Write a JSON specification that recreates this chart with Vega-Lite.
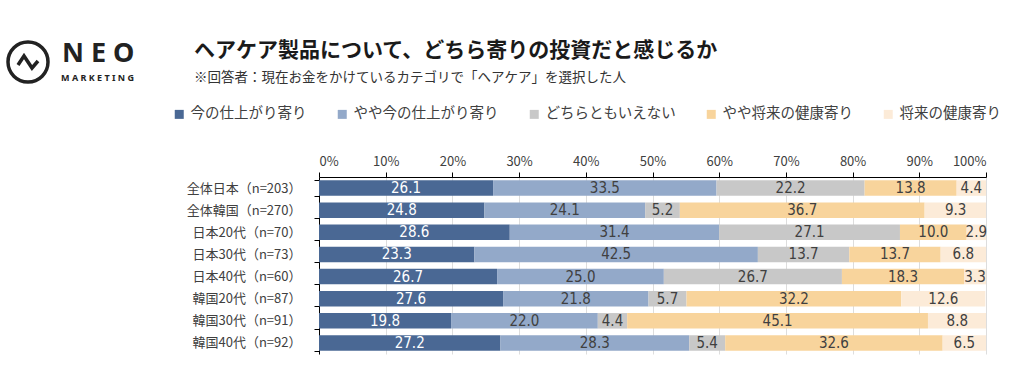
{
  "$schema": "https://vega.github.io/schema/vega-lite/v6.json",
  "background": "white",
  "autosize": {"type": "none"},
  "padding": {"left": 319, "top": 177, "right": 38, "bottom": 21},
  "width": 667,
  "height": 177,
  "config": {"view": {"stroke": null}, "font": "Noto Sans CJK JP"},
  "title": {
    "text": "ヘアケア製品について、どちら寄りの投資だと感じるか",
    "subtitle": "※回答者：現在お金をかけているカテゴリで「ヘアケア」を選択した人",
    "anchor": "start",
    "frame": "group",
    "dx": -125,
    "offset": -44,
    "font": "Noto Sans CJK JP",
    "fontSize": 21,
    "fontWeight": "bold",
    "color": "#1a1a1a",
    "subtitleFont": "Noto Sans CJK JP",
    "subtitleFontSize": 13.5,
    "subtitleColor": "#333333",
    "subtitlePadding": 10
  },
  "layer": [
    {
      "data": {"values": [{"brand": "N E O"}]},
      "mark": {"type": "point", "filled": false, "color": "#222222", "opacity": 0, "size": 1600},
      "encoding": {
        "shape": {
          "field": "brand",
          "type": "nominal",
          "scale": {"range": ["M -1 0 A 1 1 0 1 0 1 0 A 1 1 0 1 0 -1 0 Z M -0.5 0.15 L -0.2 -0.3 L 0.2 0.3 L 0.5 -0.05"]},
          "legend": {
            "orient": "none",
            "legendX": -313,
            "legendY": -137,
            "padding": 0,
            "symbolSize": 1600,
            "symbolStrokeWidth": 3.5,
            "symbolStrokeColor": "#222222",
            "symbolFillColor": "transparent",
            "symbolOpacity": 1,
            "labelFont": "Noto Sans",
            "labelFontSize": 27,
            "labelFontWeight": "bold",
            "labelColor": "#222222",
            "labelBaseline": "alphabetic",
            "labelOffset": 12,
            "labelLimit": 300,
            "title": "M A R K E T I N G",
            "titleOrient": "bottom",
            "titleAnchor": "end",
            "titleFont": "Noto Sans",
            "titleFontSize": 9,
            "titleFontWeight": "bold",
            "titleColor": "#222222",
            "titlePadding": -15
          }
        }
      }
    },
    {
      "data": {
        "values": [
          {"g": "全体日本（n=203）", "c": "今の仕上がり寄り", "o": 1, "v": 26.1},
          {"g": "全体日本（n=203）", "c": "やや今の仕上がり寄り", "o": 2, "v": 33.5},
          {"g": "全体日本（n=203）", "c": "どちらともいえない", "o": 3, "v": 22.2},
          {"g": "全体日本（n=203）", "c": "やや将来の健康寄り", "o": 4, "v": 13.8},
          {"g": "全体日本（n=203）", "c": "将来の健康寄り", "o": 5, "v": 4.4},
          {"g": "全体韓国（n=270）", "c": "今の仕上がり寄り", "o": 1, "v": 24.8},
          {"g": "全体韓国（n=270）", "c": "やや今の仕上がり寄り", "o": 2, "v": 24.1},
          {"g": "全体韓国（n=270）", "c": "どちらともいえない", "o": 3, "v": 5.2},
          {"g": "全体韓国（n=270）", "c": "やや将来の健康寄り", "o": 4, "v": 36.7},
          {"g": "全体韓国（n=270）", "c": "将来の健康寄り", "o": 5, "v": 9.3},
          {"g": "日本20代（n=70）", "c": "今の仕上がり寄り", "o": 1, "v": 28.6},
          {"g": "日本20代（n=70）", "c": "やや今の仕上がり寄り", "o": 2, "v": 31.4},
          {"g": "日本20代（n=70）", "c": "どちらともいえない", "o": 3, "v": 27.1},
          {"g": "日本20代（n=70）", "c": "やや将来の健康寄り", "o": 4, "v": 10.0},
          {"g": "日本20代（n=70）", "c": "将来の健康寄り", "o": 5, "v": 2.9},
          {"g": "日本30代（n=73）", "c": "今の仕上がり寄り", "o": 1, "v": 23.3},
          {"g": "日本30代（n=73）", "c": "やや今の仕上がり寄り", "o": 2, "v": 42.5},
          {"g": "日本30代（n=73）", "c": "どちらともいえない", "o": 3, "v": 13.7},
          {"g": "日本30代（n=73）", "c": "やや将来の健康寄り", "o": 4, "v": 13.7},
          {"g": "日本30代（n=73）", "c": "将来の健康寄り", "o": 5, "v": 6.8},
          {"g": "日本40代（n=60）", "c": "今の仕上がり寄り", "o": 1, "v": 26.7},
          {"g": "日本40代（n=60）", "c": "やや今の仕上がり寄り", "o": 2, "v": 25.0},
          {"g": "日本40代（n=60）", "c": "どちらともいえない", "o": 3, "v": 26.7},
          {"g": "日本40代（n=60）", "c": "やや将来の健康寄り", "o": 4, "v": 18.3},
          {"g": "日本40代（n=60）", "c": "将来の健康寄り", "o": 5, "v": 3.3},
          {"g": "韓国20代（n=87）", "c": "今の仕上がり寄り", "o": 1, "v": 27.6},
          {"g": "韓国20代（n=87）", "c": "やや今の仕上がり寄り", "o": 2, "v": 21.8},
          {"g": "韓国20代（n=87）", "c": "どちらともいえない", "o": 3, "v": 5.7},
          {"g": "韓国20代（n=87）", "c": "やや将来の健康寄り", "o": 4, "v": 32.2},
          {"g": "韓国20代（n=87）", "c": "将来の健康寄り", "o": 5, "v": 12.6},
          {"g": "韓国30代（n=91）", "c": "今の仕上がり寄り", "o": 1, "v": 19.8},
          {"g": "韓国30代（n=91）", "c": "やや今の仕上がり寄り", "o": 2, "v": 22.0},
          {"g": "韓国30代（n=91）", "c": "どちらともいえない", "o": 3, "v": 4.4},
          {"g": "韓国30代（n=91）", "c": "やや将来の健康寄り", "o": 4, "v": 45.1},
          {"g": "韓国30代（n=91）", "c": "将来の健康寄り", "o": 5, "v": 8.8},
          {"g": "韓国40代（n=92）", "c": "今の仕上がり寄り", "o": 1, "v": 27.2},
          {"g": "韓国40代（n=92）", "c": "やや今の仕上がり寄り", "o": 2, "v": 28.3},
          {"g": "韓国40代（n=92）", "c": "どちらともいえない", "o": 3, "v": 5.4},
          {"g": "韓国40代（n=92）", "c": "やや将来の健康寄り", "o": 4, "v": 32.6},
          {"g": "韓国40代（n=92）", "c": "将来の健康寄り", "o": 5, "v": 6.5}
        ]
      },
      "encoding": {
        "y": {
          "field": "g",
          "type": "nominal",
          "sort": null,
          "scale": {"paddingInner": 0.3, "paddingOuter": 0.15},
          "axis": {
            "title": null,
            "domainColor": "#000000",
            "tickColor": "#000000",
            "tickSize": 5,
            "tickBand": "extent",
            "labelFont": "Noto Sans CJK JP",
            "labelFontSize": 13,
            "labelColor": "#404040",
            "labelPadding": 13,
            "grid": false
          }
        }
      },
      "layer": [
        {
          "mark": {"type": "bar", "clip": true},
          "encoding": {
            "x": {
              "field": "v",
              "type": "quantitative",
              "stack": "zero",
              "scale": {"domain": [0, 100], "nice": false},
              "axis": {
                "orient": "top",
                "title": null,
                "values": [0, 10, 20, 30, 40, 50, 60, 70, 80, 90, 100],
                "labelExpr": "datum.value + '%'",
                "domainColor": "#000000",
                "tickColor": "#000000",
                "tickSize": 5,
                "labelFont": "Noto Sans CJK JP",
                "labelFontSize": 13,
                "labelColor": "#404040",
                "labelPadding": 4,
                "grid": true,
                "gridColor": "#dddddd"
              }
            },
            "color": {
              "field": "c",
              "type": "nominal",
              "scale": {
                "domain": ["今の仕上がり寄り", "やや今の仕上がり寄り", "どちらともいえない", "やや将来の健康寄り", "将来の健康寄り"],
                "range": ["#4a6894", "#93a9c9", "#c8c8c8", "#f8d49c", "#fcebd8"]
              },
              "legend": {
                "orient": "none",
                "legendX": -147,
                "legendY": -70,
                "padding": 0,
                "direction": "horizontal",
                "title": null,
                "symbolType": "square",
                "symbolSize": 81,
                "symbolStrokeWidth": 0,
                "symbolOpacity": 1,
                "labelOffset": 4,
                "columnPadding": 28,
                "labelFont": "Noto Sans CJK JP",
                "labelFontSize": 14.5,
                "labelColor": "#404040",
                "labelLimit": 300
              }
            },
            "order": {"field": "o", "type": "quantitative"}
          }
        },
        {
          "mark": {"type": "text", "font": "Liberation Sans Narrow, DejaVu Sans Condensed, Roboto, sans-serif", "fontSize": 15, "baseline": "middle"},
          "encoding": {
            "x": {"field": "v", "type": "quantitative", "stack": "zero", "bandPosition": 0.5},
            "text": {"field": "v", "type": "quantitative", "format": ".1f"},
            "color": {"condition": {"test": "datum.o === 1", "value": "#ffffff"}, "value": "#404040"},
            "order": {"field": "o", "type": "quantitative"}
          }
        }
      ]
    }
  ]
}
